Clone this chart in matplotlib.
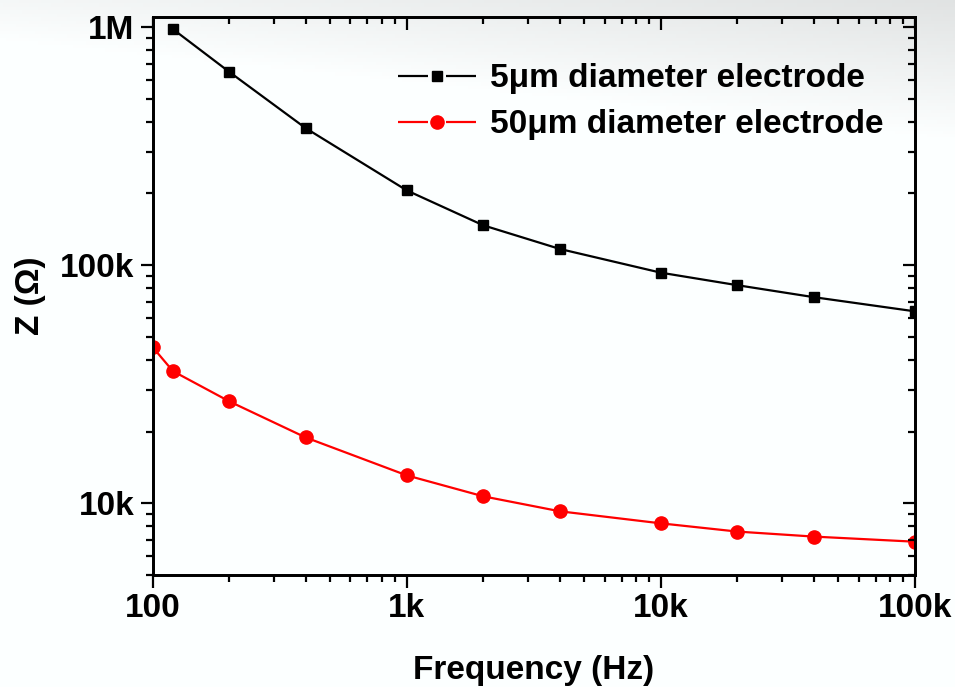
import numpy as np
import matplotlib
matplotlib.use('Agg')
import matplotlib.pyplot as plt
from matplotlib.lines import Line2D
from matplotlib.ticker import FixedLocator, FixedFormatter, LogLocator, NullFormatter

plt.rcParams['font.family'] = ['Liberation Sans', 'DejaVu Sans']
plt.rcParams['font.weight'] = 'bold'

# frequency points (Hz)
freq_5 = [120, 200, 400, 1000, 2000, 4000, 10000, 20000, 40000, 100000]
z_5 = [980e3, 648e3, 376e3, 206e3, 147e3, 117e3, 93e3, 82.4e3, 73.4e3, 64e3]
freq_50 = [100, 120, 200, 400, 1000, 2000, 4000, 10000, 20000, 40000, 100000]
z_50 = [45.2e3, 35.9e3, 26.8e3, 18.9e3, 13.1e3, 10.7e3, 9.26e3, 8.24e3, 7.61e3, 7.25e3, 6.9e3]

x_ticks = [100, 1000, 10000, 100000]
x_labels = ['100', '1k', '10k', '100k']
y_ticks = [1e4, 1e5, 1e6]
y_labels = ['10k', '100k', '1M']
names = ['5\u03bcm diameter electrode', '50\u03bcm diameter electrode']

fig = plt.figure(figsize=(9.55, 6.87), dpi=100)

# light slide-style gradient in the background
bg = fig.add_axes([0, 0, 1, 1], zorder=-10)
h, w = 200, 300
yy = np.linspace(0, 1, h)[:, None]
xx = np.linspace(0, 1, w)[None, :]
shade = 0.89 + 0.11 * np.clip(yy / 0.2, 0, 1) + 0.08 * (1 - xx)
shade = np.clip(shade, 0, 1)
bg.imshow(np.dstack([shade * 0.99, shade, shade]), aspect='auto',
          extent=[0, 1, 0, 1])
bg.axis('off')

ax = fig.add_axes([0.160, 0.163, 0.798, 0.812])
ax.patch.set_alpha(0)
ax.plot(freq_5, z_5, '-', color='black', lw=1.6, marker='s', ms=7.5)
ax.plot(freq_50, z_50, '-', color='red', lw=1.6, marker='o', ms=9.5)

ax.set_xscale('log')
ax.set_yscale('log')
ax.set_xlim(100, 100000)
ax.set_ylim(5.0e3, 1.1e6)

ax.xaxis.set_major_locator(FixedLocator(x_ticks))
ax.xaxis.set_major_formatter(FixedFormatter(x_labels))
ax.yaxis.set_major_locator(FixedLocator(y_ticks))
ax.yaxis.set_major_formatter(FixedFormatter(y_labels))
ax.xaxis.set_minor_locator(LogLocator(base=10, subs=np.arange(2, 10)))
ax.yaxis.set_minor_locator(LogLocator(base=10, subs=np.arange(2, 10)))
ax.xaxis.set_minor_formatter(NullFormatter())
ax.yaxis.set_minor_formatter(NullFormatter())

ax.tick_params(which='both', labelsize=24, width=1.6, direction='out',
               top=False, right=False)
ax.tick_params(which='major', length=9, pad=4)
ax.tick_params(which='minor', length=5)

# inward ticks on top and right
axt = ax.twiny()
axt.set_xscale('log')
axt.set_xlim(ax.get_xlim())
axt.xaxis.set_major_locator(FixedLocator(x_ticks))
axt.xaxis.set_minor_locator(LogLocator(base=10, subs=np.arange(2, 10)))
axt.tick_params(which='both', direction='in', width=1.6, labeltop=False)
axt.tick_params(which='major', length=9)
axt.tick_params(which='minor', length=5)
axr = ax.twinx()
axr.set_yscale('log')
axr.set_ylim(ax.get_ylim())
axr.yaxis.set_major_locator(FixedLocator(y_ticks))
axr.yaxis.set_minor_locator(LogLocator(base=10, subs=np.arange(2, 10)))
axr.tick_params(which='both', direction='in', width=1.6, labelright=False)
axr.tick_params(which='major', length=9)
axr.tick_params(which='minor', length=5)
for a in (ax, axt, axr):
    a.patch.set_alpha(0)
    for s in a.spines.values():
        s.set_linewidth(1.8)

ax.set_xlabel('Frequency (Hz)', fontsize=24, fontweight='bold', labelpad=22)
ax.set_ylabel('Z (\u03a9)', fontsize=24, fontweight='bold', labelpad=10)

# legend handles: line - marker - line with small gaps
handles = []
for c, m, s in [('black', 's', 7.5), ('red', 'o', 9.5)]:
    seg = Line2D([], [], color=c, lw=1.6, dashes=(13.5, 8.1))
    mk = Line2D([], [], color=c, marker=m, ms=s, ls='none')
    handles.append((seg, mk))
axr.legend(handles, names, loc='upper left', bbox_to_anchor=(0.322, 0.917),
           frameon=False, fontsize=24, handlelength=2.35, handletextpad=0.4,
           labelspacing=0.45, borderpad=0, borderaxespad=0)

fig.savefig('out.png', dpi=100)
